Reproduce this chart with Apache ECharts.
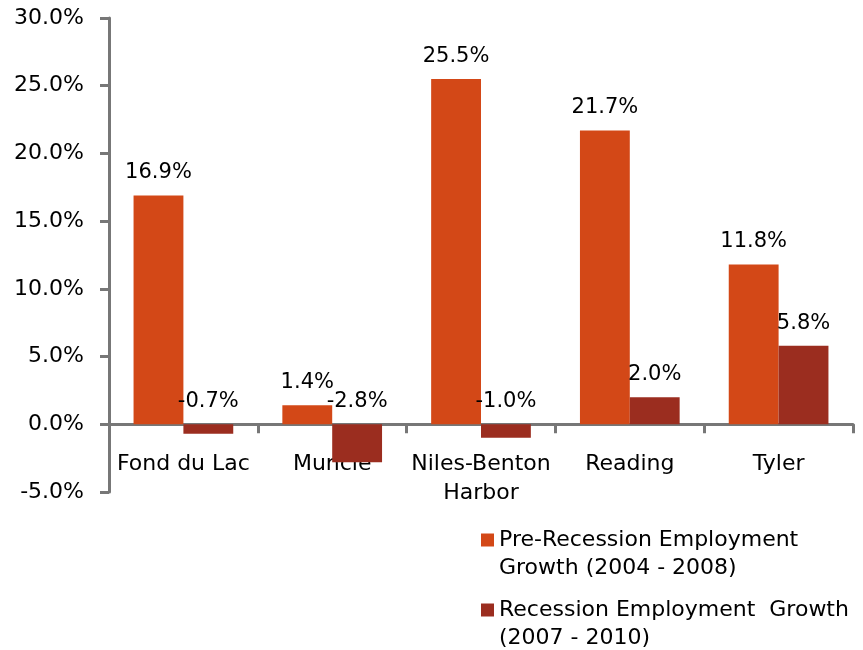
<!DOCTYPE html>
<html>
<head>
<meta charset="utf-8">
<script src="https://cdn.jsdelivr.net/npm/echarts@6/dist/echarts.min.js"></script>
<style>
  html, body { margin: 0; padding: 0; background: #fff; }
  #chart { width: 863px; height: 650px; }
</style>
</head>
<body>
<div id="chart"></div>
<script>
// data
const categories = ['Fond du Lac', 'Muncie', 'Niles-Benton\nHarbor', 'Reading', 'Tyler'];
const preRecession = [16.9, 1.4, 25.5, 21.7, 11.8];
const recession = [-0.7, -2.8, -1.0, 2.0, 5.8];
const seriesNames = ['Pre-Recession Employment Growth (2004 - 2008)', 'Recession Employment Growth (2007 - 2010)'];
const legendLabels = ['Pre-Recession Employment\nGrowth (2004 - 2008)', 'Recession Employment  Growth\n(2007 - 2010)'];

const axisGrey = '#777777';
const font = 'DejaVu Sans';

const pct = (v) => v.toFixed(1) + '%';

const labelStyle = {
  show: true,
  position: 'top',
  distance: 12,
  color: '#000',
  fontFamily: font,
  fontSize: 21,
  formatter: (p) => pct(p.value),
};

const option = {
  backgroundColor: '#fff',
  animation: false,
  grid: {
    left: 109,
    right: 10,
    top: 18,
    bottom: 158,
  },
  legend: {
    orient: 'vertical',
    left: 481,
    top: 498,
    height: 220,
    padding: 0,
    itemGap: -14,
    itemWidth: 13,
    itemHeight: 13,
    icon: 'rect',
    data: seriesNames,
    // leading empty line keeps the marker level with the first text line
    formatter: (name) => '\n' + legendLabels[seriesNames.indexOf(name)],
    textStyle: {
      color: '#000',
      fontFamily: font,
      fontSize: 22,
      lineHeight: 28,
    },
  },
  xAxis: {
    type: 'category',
    data: categories,
    axisLine: { lineStyle: { color: axisGrey, width: 3 } },
    axisTick: { show: true, length: 9, lineStyle: { color: axisGrey, width: 3 } },
    axisLabel: {
      color: '#000',
      fontFamily: font,
      fontSize: 22,
      lineHeight: 29,
      margin: -42,
      interval: 0,
    },
    splitLine: { show: false },
  },
  yAxis: {
    type: 'value',
    min: -5,
    max: 30,
    interval: 5,
    axisLine: { show: true, lineStyle: { color: axisGrey, width: 3 } },
    axisTick: { show: true, length: 9, lineStyle: { color: axisGrey, width: 3 } },
    axisLabel: {
      color: '#000',
      fontFamily: font,
      fontSize: 22,
      margin: 25,
      formatter: (v) => pct(v),
    },
    splitLine: { show: false },
  },
  series: [
    {
      name: seriesNames[0],
      type: 'bar',
      data: preRecession,
      barGap: '0%',
      barCategoryGap: '33%',
      itemStyle: { color: '#D34817' },
      label: labelStyle,
    },
    {
      name: seriesNames[1],
      type: 'bar',
      data: recession,
      barGap: '0%',
      barCategoryGap: '33%',
      itemStyle: { color: '#9B2D1F' },
      label: labelStyle,
    },
  ],
};

const myChart = echarts.init(document.getElementById('chart'));
myChart.setOption(option);
window.addEventListener('resize', () => {
  myChart.resize();
});
</script>
</body>
</html>
